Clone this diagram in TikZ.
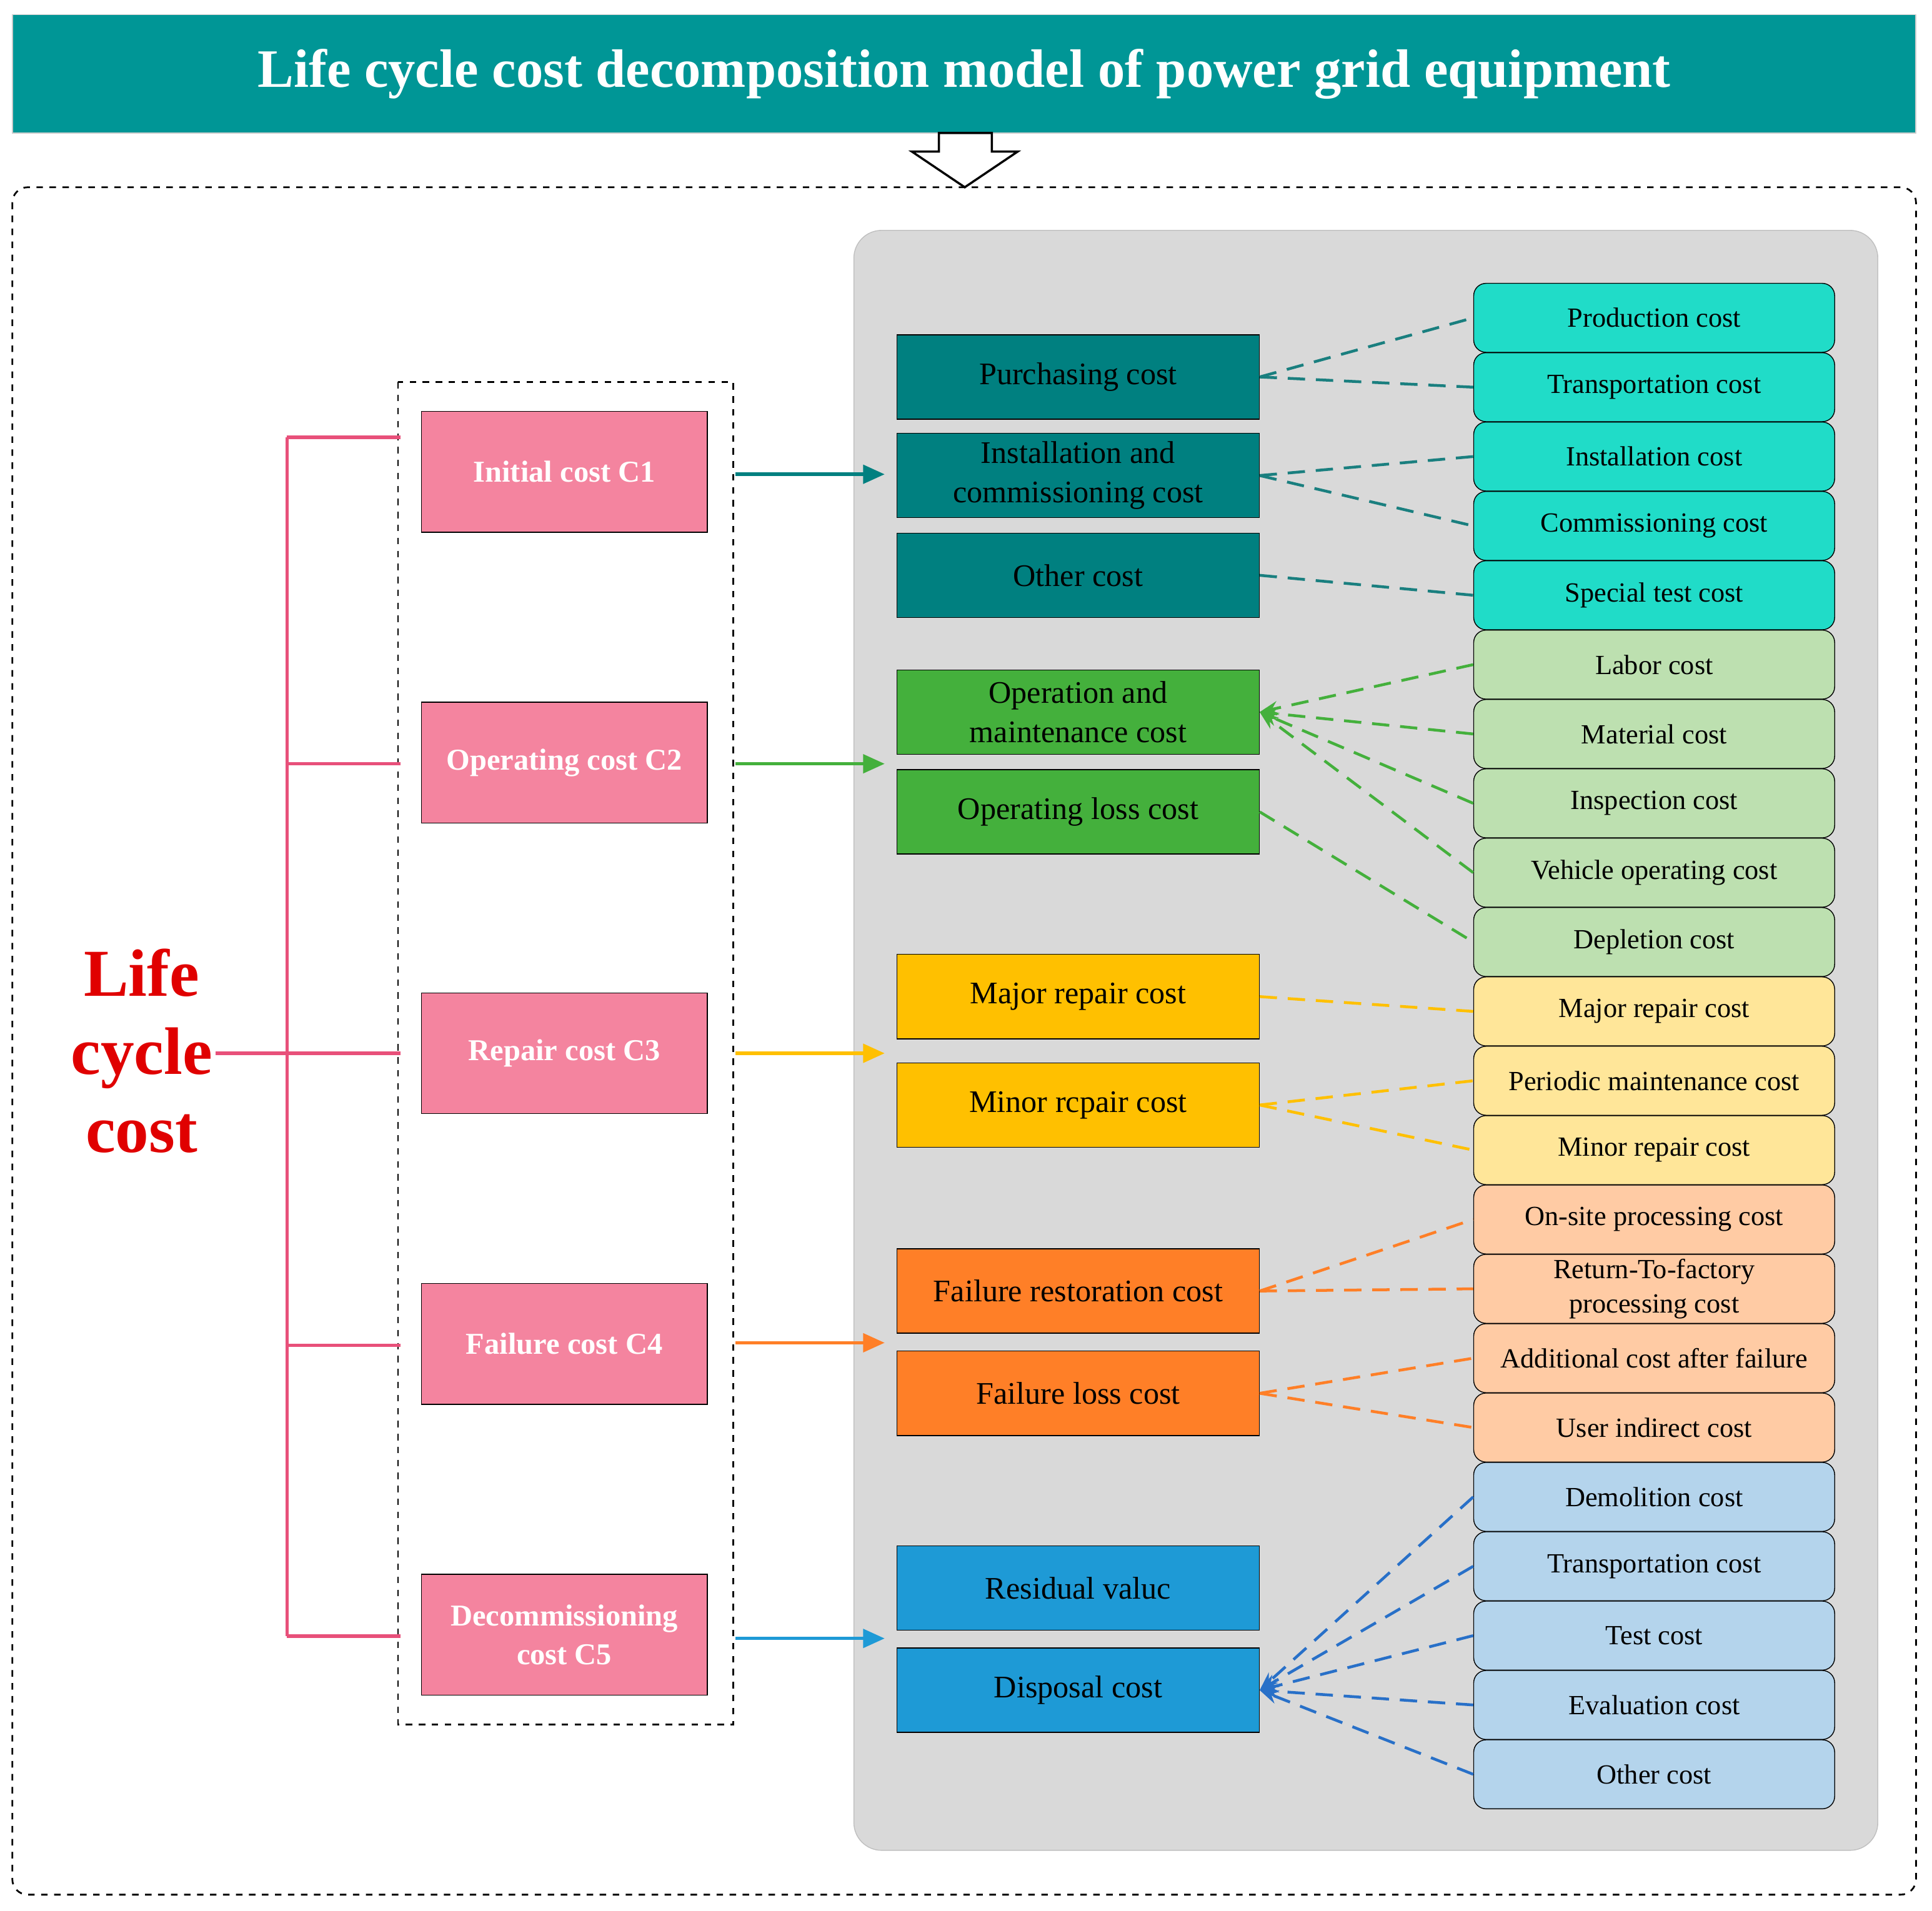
\documentclass[tikz,border=0pt]{standalone}
\usepackage{fontspec}
\setmainfont{Liberation Serif}
\usetikzlibrary{arrows.meta}
\definecolor{titlec}{HTML}{009696}
\definecolor{pinkf}{HTML}{F4849F}
\definecolor{pinkl}{HTML}{E8507A}
\definecolor{lifered}{HTML}{E00000}
\definecolor{tealm}{HTML}{008080}
\definecolor{greenm}{HTML}{44B03C}
\definecolor{yellowm}{HTML}{FFC000}
\definecolor{orangem}{HTML}{FF7F27}
\definecolor{bluem}{HTML}{1E9AD6}
\definecolor{tealr}{HTML}{20DCC8}
\definecolor{greenr}{HTML}{BDE0B0}
\definecolor{yellowr}{HTML}{FFE699}
\definecolor{oranger}{HTML}{FFCBA4}
\definecolor{bluer}{HTML}{B4D4EC}
\definecolor{tealdash}{HTML}{1A7F7F}
\definecolor{bluedash}{HTML}{2870C8}
\begin{document}
\begin{tikzpicture}[x=0.02cm,y=-0.02cm,
 pink/.style={draw=black,fill=pinkf,minimum width=4.64cm,minimum height=1.96cm,text=white,font=\fontsize{14}{18}\selectfont\bfseries,align=center,inner sep=1pt},
 mid/.style={draw=black,fill=#1,minimum width=5.88cm,minimum height=1.37cm,font=\fontsize{14.5}{18}\selectfont,align=center,inner sep=1pt},
 right/.style={draw=black,fill=#1,rounded corners=0.2cm,minimum width=5.86cm,minimum height=1.12cm,font=\fontsize{12.8}{16}\selectfont,align=center,inner sep=1pt},
 arr/.style={-{Triangle[length=0.35cm,width=0.3cm]},line width=1.6pt,#1},
 dl/.style={dashed,dash pattern=on 8pt off 5pt,line width=1.3pt,#1},
 br/.style={pinkl,line width=1.6pt}]
\useasboundingbox (0,0) rectangle (1568,1551);
% title
\node[fill=titlec,draw=gray!40,minimum width=30.9cm,minimum height=1.92cm,text=white,font=\fontsize{25}{28}\selectfont\bfseries] (title) at (782.5,60) {Life cycle cost decomposition model of power grid equipment};
\draw[fill=white,line width=1pt] (762,108) -- (805,108) -- (805,123) -- (826,123) -- (783,152) -- (740,123) -- (762,123) -- cycle;
\draw[dashed,line width=0.8pt,rounded corners=0.25cm] (10,152) rectangle (1555,1538);
\draw[fill=black!15,draw=black!25,rounded corners=0.45cm] (693,187) rectangle (1524,1502);
\draw[dashed,line width=0.8pt] (323,310) rectangle (595,1400);
% pink
\node[pink] (c1) at (458,383) {Initial cost C1};
\node[pink] (c2) at (458,619) {Operating cost C2};
\node[pink] (c3) at (458,855) {Repair cost C3};
\node[pink] (c4) at (458,1091) {Failure cost C4};
\node[pink] (c5) at (458,1327) {Decommissioning\\cost C5};
\node[text=lifered,font=\fontsize{31}{36}\selectfont\bfseries,align=center] (life) at (115,853) {Life\\cycle\\cost};
% bracket
\coordinate (b1) at (233,355); \coordinate (b5) at (233,1328);
\draw[br] (b1) -- (b5);
\draw[br] (b1) -- (325,355);
\draw[br] (233,620) -- (325,620);
\draw[br] (175,855) -- (325,855);
\draw[br] (233,1092) -- (325,1092);
\draw[br] (b5) -- (325,1328);
% middle
\node[mid=tealm] (m1) at (875,306) {Purchasing cost};
\node[mid=tealm] (m2) at (875,386) {Installation and\\commissioning cost};
\node[mid=tealm] (m3) at (875,467) {Other cost};
\node[mid=greenm] (m4) at (875,578) {Operation and\\maintenance cost};
\node[mid=greenm] (m5) at (875,659) {Operating loss cost};
\node[mid=yellowm] (m6) at (875,809) {Major repair cost};
\node[mid=yellowm] (m7) at (875,897) {Minor rcpair cost};
\node[mid=orangem] (m8) at (875,1048) {Failure restoration cost};
\node[mid=orangem] (m9) at (875,1131) {Failure loss cost};
\node[mid=bluem] (m10) at (875,1289) {Residual valuc};
\node[mid=bluem] (m11) at (875,1372) {Disposal cost};
% arrows
\coordinate (a1) at (718,385); \coordinate (a2) at (718,620); \coordinate (a3) at (718,855); \coordinate (a4) at (718,1090); \coordinate (a5) at (718,1330);
\draw[arr=tealm] (597,385) -- (a1);
\draw[arr=greenm] (597,620) -- (a2);
\draw[arr=yellowm] (597,855) -- (a3);
\draw[arr=orangem] (597,1090) -- (a4);
\draw[arr=bluem] (597,1330) -- (a5);
% right
\foreach \i/\t/\c in {1/Production cost/tealr,2/Transportation cost/tealr,3/Installation cost/tealr,4/Commissioning cost/tealr,5/Special test cost/tealr,
6/Labor cost/greenr,7/Material cost/greenr,8/Inspection cost/greenr,9/Vehicle operating cost/greenr,10/Depletion cost/greenr,
11/Major repair cost/yellowr,12/Periodic maintenance cost/yellowr,13/Minor repair cost/yellowr,
14/On-site processing cost/oranger,15/{Return-To-factory\\processing cost}/oranger,16/Additional cost after failure/oranger,17/User indirect cost/oranger,
18/Demolition cost/bluer,19/Transportation cost/bluer,20/Test cost/bluer,21/Evaluation cost/bluer,22/Other cost/bluer}
 {\node[right=\c] (r\i) at (1342.5,{258+56.3*(\i-1)}) {\t};}
% dashed
\foreach \m/\r in {m1/r1,m1/r2,m2/r3,m2/r4,m3/r5}{\draw[dl=tealdash] (\m.east) -- (\r.west);}
\foreach \r in {r6,r7,r8,r9}{\draw[dl=greenm,-{Stealth[length=0.3cm]}] (\r.west) -- (m4.east);}
\draw[dl=greenm] (m5.east) -- (r10.west);
\foreach \m/\r in {m6/r11,m7/r12,m7/r13}{\draw[dl=yellowm] (\m.east) -- (\r.west);}
\foreach \m/\r in {m8/r14,m8/r15,m9/r16,m9/r17}{\draw[dl=orangem] (\m.east) -- (\r.west);}
\foreach \r in {r18,r19,r20,r21,r22}{\draw[dl=bluedash,-{Stealth[length=0.3cm]}] (\r.west) -- (m11.east);}
\end{tikzpicture}
\end{document}
